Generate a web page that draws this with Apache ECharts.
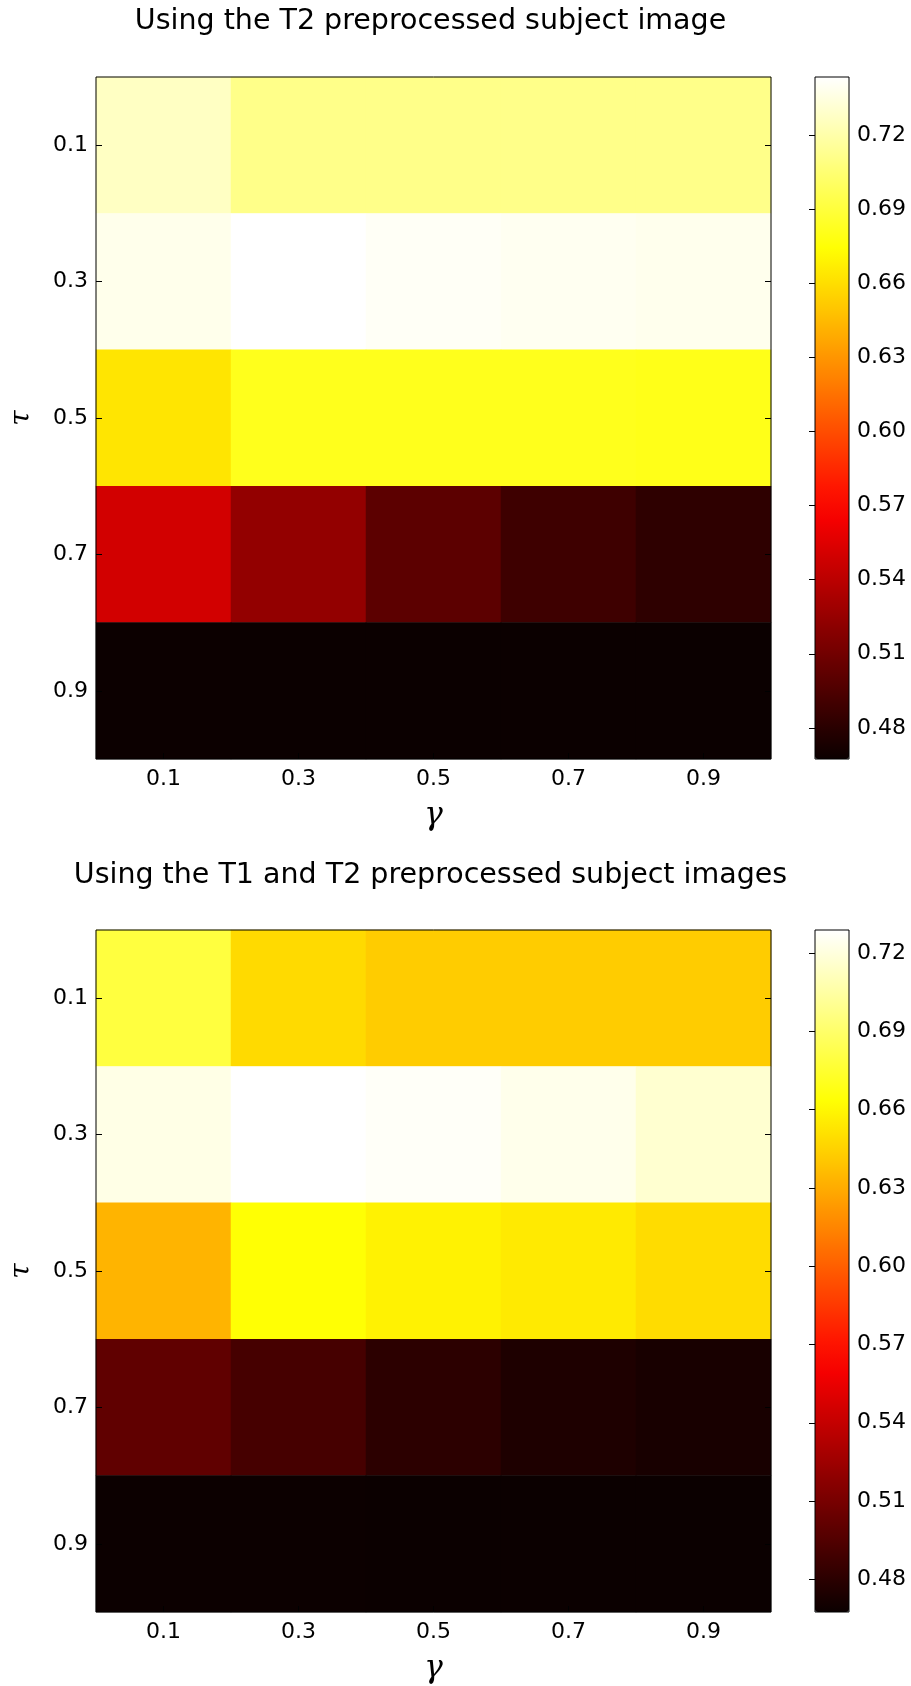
<!DOCTYPE html>
<html>
<head>
<meta charset="utf-8">
<script src="https://cdn.jsdelivr.net/npm/echarts@6/dist/echarts.min.js"></script>
<style>
html,body{margin:0;padding:0;background:#fff;}
#chart{width:911px;height:1686px;}
</style>
</head>
<body>
<div id="chart"></div>
<script>
// ---- data ----
var gammaLabels = ['0.1', '0.3', '0.5', '0.7', '0.9'];
var tauLabels = ['0.1', '0.3', '0.5', '0.7', '0.9'];
var colorbarTicks = [0.48, 0.51, 0.54, 0.57, 0.60, 0.63, 0.66, 0.69, 0.72];

var titleTop = 'Using the T2 preprocessed subject image';
var titleBottom = 'Using the T1 and T2 preprocessed subject images';

// rows = tau (0.1 .. 0.9), columns = gamma (0.1 .. 0.9)
var valuesT2 = [
  [0.727, 0.711, 0.711, 0.711, 0.711],
  [0.738, 0.7435, 0.741, 0.7395, 0.7385],
  [0.663, 0.681, 0.681, 0.681, 0.680],
  [0.550, 0.524, 0.501, 0.4886, 0.482],
  [0.4677, 0.4676, 0.4675, 0.4675, 0.4674]
];
var valuesT1T2 = [
  [0.679, 0.648, 0.6425, 0.6425, 0.6425],
  [0.7223, 0.7288, 0.727, 0.7235, 0.7166],
  [0.633, 0.6635, 0.658, 0.6545, 0.649],
  [0.5008, 0.4907, 0.4805, 0.4751, 0.4727],
  [0.4678, 0.4677, 0.4676, 0.4676, 0.4675]
];

// matplotlib "hot" colormap sampled at 21 evenly spaced points
var hotColors = ['#0b0000','#2c0000','#4e0000','#6f0000','#900000','#b20000','#d30000','#f50000',
  '#ff1700','#ff3900','#ff5a00','#ff7c00','#ff9d00','#ffbf00','#ffe000','#ffff04','#ffff36',
  '#ffff68','#ffff9b','#ffffcd','#ffffff'];

function toHeat(mat) {
  var out = [];
  for (var r = 0; r < mat.length; r++) {
    for (var c = 0; c < mat[r].length; c++) {
      out.push([c, r, mat[r][c]]);
    }
  }
  return out;
}
function minOf(mat) { return Math.min.apply(null, [].concat.apply([], mat)); }
function maxOf(mat) { return Math.max.apply(null, [].concat.apply([], mat)); }

var FONT = 'DejaVu Sans';
var panels = [
  {top: 77, values: valuesT2, title: titleTop, titleTop: 7},
  {top: 930, values: valuesT1T2, title: titleBottom, titleTop: 861}
];
var PL = 90, PW = 681, PH = 682, CBL = 815, CBW = 34;

var option = {
  backgroundColor: '#fff',
  animation: false,
  textStyle: {fontFamily: FONT, color: '#000'},
  title: [], grid: [], xAxis: [], yAxis: [], visualMap: [], series: []
};

panels.forEach(function (p, i) {
  var vmin = minOf(p.values), vmax = maxOf(p.values);
  option.title.push({
    text: p.title, left: PL + PW / 2, top: p.titleTop, textAlign: 'center', padding: 0,
    textStyle: {fontFamily: FONT, fontSize: 28.5, fontWeight: 'normal', color: '#000'}
  });
  option.grid.push({left: PL, top: p.top, width: PW, height: PH, show: true,
    borderColor: '#000', borderWidth: 1, z: 10, backgroundColor: 'rgba(0,0,0,0)'});
  option.grid.push({left: CBL, top: p.top, width: CBW, height: PH, show: true,
    borderColor: '#000', borderWidth: 1, z: 10, backgroundColor: 'rgba(0,0,0,0)'});
  var gH = i * 2, gC = i * 2 + 1;
  var xBase = option.xAxis.length, yBase = option.yAxis.length;
  option.xAxis.push({
    gridIndex: gH, type: 'category', data: gammaLabels, position: 'bottom',
    name: 'γ', nameLocation: 'middle', nameGap: 41,
    nameTextStyle: {fontFamily: 'DejaVu Serif', fontStyle: 'italic', fontSize: 31, color: '#000'},
    axisLine: {show: false},
    axisTick: {show: true, inside: true, alignWithLabel: true, length: 6, lineStyle: {color: '#000'}},
    axisLabel: {fontSize: 22, color: '#000', margin: 9, fontFamily: FONT},
    splitLine: {show: false}, z: 10
  });
  option.xAxis.push({
    gridIndex: gC, type: 'value', min: 0, max: 1, show: false
  });
  option.yAxis.push({
    gridIndex: gH, type: 'category', data: tauLabels, inverse: true, position: 'left',
    name: 'τ', nameLocation: 'middle', nameGap: 60, nameRotate: 90,
    nameTextStyle: {fontFamily: 'DejaVu Serif', fontStyle: 'italic', fontSize: 28, color: '#000'},
    axisLine: {show: false},
    axisTick: {show: true, inside: true, alignWithLabel: true, length: 6, lineStyle: {color: '#000'}},
    axisLabel: {fontSize: 22, color: '#000', margin: 8, fontFamily: FONT},
    splitLine: {show: false}, z: 10
  });
  option.yAxis.push({
    gridIndex: gH, type: 'category', data: tauLabels, inverse: true, position: 'right',
    axisLine: {show: false},
    axisTick: {show: true, inside: true, alignWithLabel: true, length: 6, lineStyle: {color: '#000'}},
    axisLabel: {show: false}, splitLine: {show: false}, z: 10
  });
  option.yAxis.push({
    gridIndex: gC, type: 'value', min: vmin, max: vmax, position: 'right',
    axisLine: {show: false},
    axisTick: {show: true, inside: true, length: 6, customValues: colorbarTicks, lineStyle: {color: '#000'}},
    axisLabel: {show: true, fontSize: 22, color: '#000', margin: 8, fontFamily: FONT,
      customValues: colorbarTicks, formatter: function (v) { return v.toFixed(2); }},
    splitLine: {show: false}, z: 10
  });
  option.visualMap.push({
    type: 'continuous', seriesIndex: option.series.length, min: vmin, max: vmax,
    calculable: false, hoverLink: false, orient: 'vertical', left: CBL, top: p.top,
    itemWidth: CBW, itemHeight: PH, padding: 0, text: null, z: 1,
    inRange: {color: hotColors}
  });
  option.series.push({
    type: 'heatmap', xAxisIndex: xBase, yAxisIndex: yBase, data: toHeat(p.values),
    itemStyle: {borderWidth: 0}, emphasis: {disabled: true}
  });
});

var chart = echarts.init(document.getElementById('chart'), null, {renderer: 'canvas'});
chart.setOption(option);
</script>
</body>
</html>
